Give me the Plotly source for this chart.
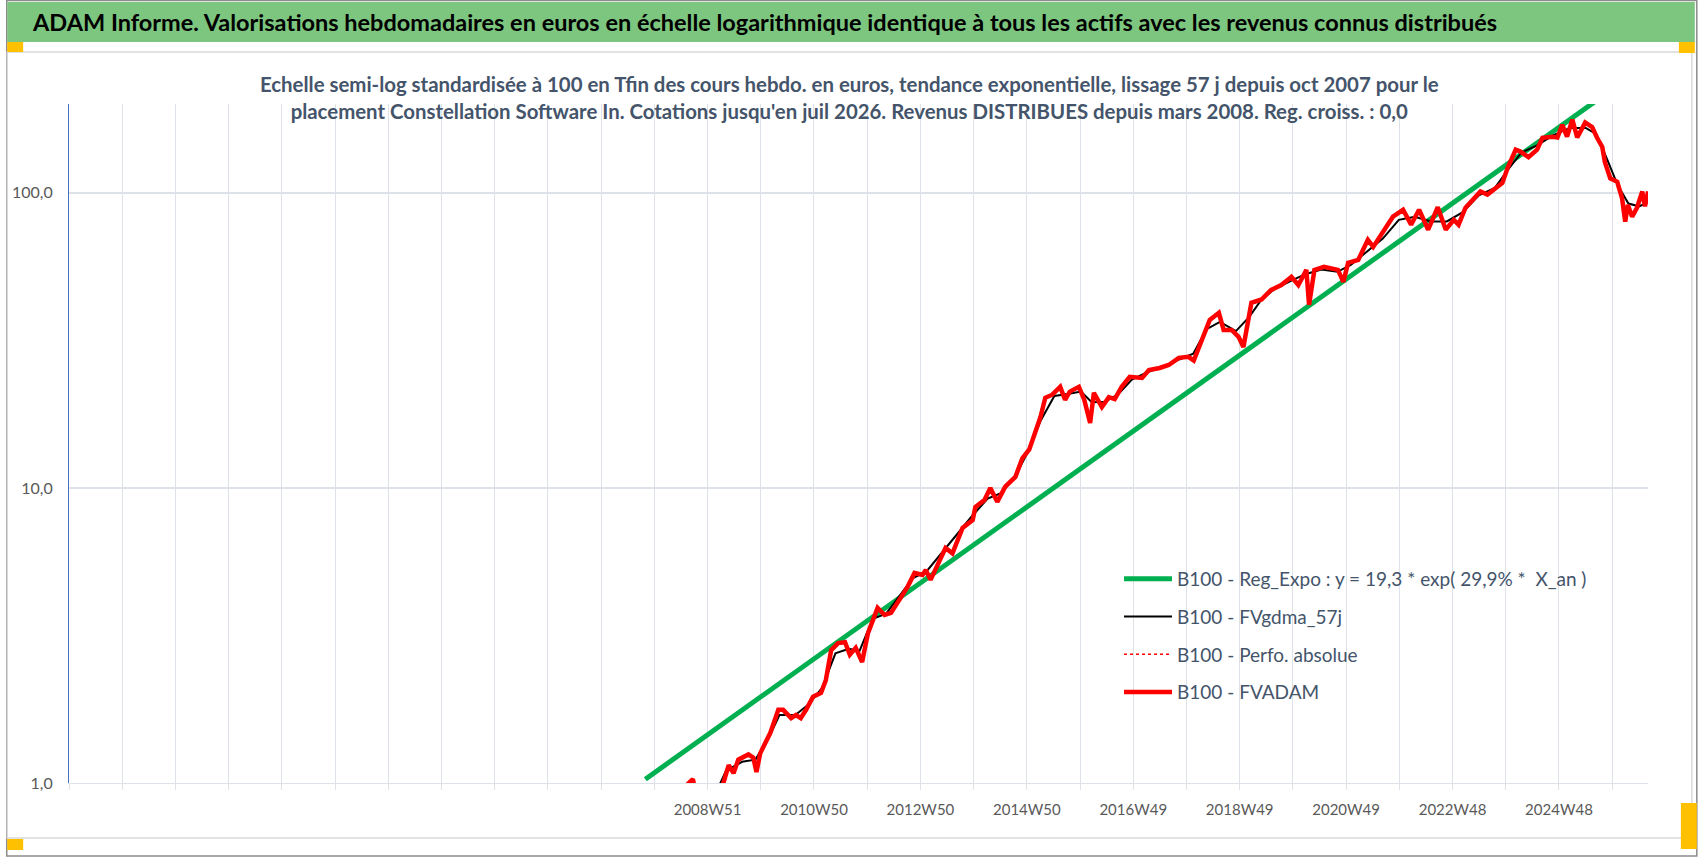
import plotly.graph_objects as go
import pandas as pd

# Titres
titre = ("ADAM Informe. Valorisations hebdomadaires en euros en échelle logarithmique "
         "identique à tous les actifs avec les revenus connus distribués")
sous_titre = ("Echelle semi-log standardisée à 100 en Tfin des cours hebdo. en euros, tendance exponentielle, "
              "lissage 57 j depuis oct 2007 pour le<br>placement Constellation Software In. Cotations jusqu'en "
              "juil 2026. Revenus DISTRIBUES depuis mars 2008. Reg. croiss. : 0,0")

# Etiquettes de l'axe des x (une sur deux lignes de grille)
etiquettes_x = ["2008W51", "2010W50", "2012W50", "2014W50", "2016W49",
                "2018W49", "2020W49", "2022W48", "2024W48"]

# Regression exponentielle (droite en semi-log)
reg_annees = [2007.79, 2026.57]
reg_valeurs = [1.03, 274.0]

# FVADAM (base 100)
fv_annees = [2007.80, 2008.00, 2008.25, 2008.45, 2008.60, 2008.68, 2008.75, 2008.95, 2009.10, 2009.22,
             2009.25, 2009.35, 2009.44, 2009.53, 2009.72, 2009.81, 2009.87, 2009.94, 2010.13, 2010.28,
             2010.37, 2010.52, 2010.61, 2010.70, 2010.80, 2010.93, 2011.08, 2011.17, 2011.27, 2011.40,
             2011.53, 2011.62, 2011.73, 2011.85, 2011.96, 2012.14, 2012.27, 2012.39, 2012.55, 2012.70,
             2012.83, 2012.98, 2013.04, 2013.13, 2013.41, 2013.54, 2013.73, 2013.92, 2013.97, 2014.14,
             2014.25, 2014.38, 2014.53, 2014.72, 2014.85, 2014.98, 2015.09, 2015.19, 2015.28, 2015.41,
             2015.56, 2015.65, 2015.74, 2015.91, 2016.01, 2016.12, 2016.19, 2016.34, 2016.47, 2016.58,
             2016.71, 2016.86, 2017.09, 2017.22, 2017.42, 2017.59, 2017.78, 2017.96, 2018.06, 2018.21,
             2018.36, 2018.53, 2018.62, 2018.77, 2018.90, 2018.99, 2019.14, 2019.33, 2019.51, 2019.70,
             2019.89, 2020.02, 2020.17, 2020.22, 2020.32, 2020.50, 2020.76, 2020.86, 2020.95, 2021.14,
             2021.32, 2021.42, 2021.62, 2021.79, 2021.98, 2022.13, 2022.28, 2022.45, 2022.63, 2022.78,
             2022.93, 2023.02, 2023.15, 2023.30, 2023.43, 2023.56, 2023.71, 2023.84, 2023.94, 2024.09,
             2024.18, 2024.33, 2024.49, 2024.59, 2024.78, 2024.87, 2024.96, 2025.05, 2025.15, 2025.24,
             2025.39, 2025.52, 2025.61, 2025.71, 2025.76, 2025.86, 2025.99, 2026.08, 2026.14, 2026.19,
             2026.27, 2026.36, 2026.46, 2026.51, 2026.57]
fv_valeurs = [0.92, 0.88, 0.86, 0.93, 1.00, 1.03, 0.88, 0.82, 0.86, 0.96,
              1.00, 1.15, 1.08, 1.20, 1.25, 1.22, 1.09, 1.26, 1.48, 1.77,
              1.77, 1.66, 1.70, 1.66, 1.77, 1.96, 2.02, 2.23, 2.82, 2.98,
              3.00, 2.72, 2.87, 2.57, 3.22, 3.92, 3.71, 3.77, 4.17, 4.62,
              5.15, 5.07, 5.27, 4.88, 6.26, 6.00, 7.32, 7.79, 8.62, 9.10,
              10.0, 8.97, 10.1, 10.9, 12.6, 13.5, 15.4, 17.4, 20.2, 20.7,
              22.0, 19.9, 21.2, 22.0, 19.9, 16.6, 21.0, 18.8, 20.3, 20.0,
              22.0, 23.8, 23.6, 25.1, 25.5, 26.1, 27.6, 27.8, 27.0, 31.5,
              37.1, 39.2, 34.3, 34.3, 32.5, 30.0, 42.4, 43.5, 46.9, 48.7,
              51.9, 48.7, 54.8, 41.7, 54.8, 56.1, 54.8, 49.9, 57.9, 59.3,
              69.3, 65.6, 75.0, 83.0, 87.6, 78.0, 87.6, 75.0, 89.4, 75.0,
              81.0, 78.0, 89.0, 94.7, 101.0, 98.6, 103.0, 108.0, 121.6, 140.0,
              138.0, 132.0, 140.0, 153.6, 155.0, 154.0, 170.0, 155.0, 177.0, 154.0,
              173.0, 167.0, 154.0, 143.0, 127.0, 112.0, 109.0, 96.0, 79.8, 91.0,
              83.0, 89.0, 101.0, 90.0, 101.0]

# FVgdma_57j (lissage)
gdma_annees = [2007.80, 2008.30, 2008.68, 2009.00, 2009.30, 2009.60, 2009.85, 2010.10, 2010.30, 2010.60,
               2010.85, 2011.10, 2011.35, 2011.60, 2011.80, 2012.05, 2012.30, 2012.55, 2012.80, 2013.05,
               2013.30, 2013.60, 2013.90, 2014.20, 2014.45, 2014.70, 2014.95, 2015.20, 2015.45, 2015.70,
               2015.95, 2016.15, 2016.40, 2016.65, 2016.90, 2017.20, 2017.50, 2017.80, 2018.05, 2018.30,
               2018.55, 2018.85, 2019.10, 2019.35, 2019.60, 2019.90, 2020.15, 2020.45, 2020.75, 2021.00,
               2021.30, 2021.60, 2021.90, 2022.20, 2022.50, 2022.80, 2023.10, 2023.40, 2023.70, 2023.95,
               2024.20, 2024.50, 2024.80, 2025.10, 2025.40, 2025.60, 2025.80, 2026.00, 2026.20, 2026.40,
               2026.57]
gdma_valeurs = [0.90, 0.88, 0.98, 0.84, 1.10, 1.18, 1.20, 1.42, 1.70, 1.70,
                1.85, 2.10, 2.75, 2.85, 2.80, 3.60, 3.75, 4.30, 4.95, 5.20,
                5.90, 6.90, 8.00, 9.20, 9.60, 10.8, 13.2, 17.0, 20.5, 20.8,
                21.2, 19.5, 19.6, 20.8, 23.3, 24.7, 25.8, 27.3, 28.5, 34.5,
                36.5, 34.0, 38.0, 44.0, 47.5, 50.5, 53.0, 55.0, 54.0, 57.0,
                63.0, 70.0, 81.0, 83.0, 80.0, 80.0, 86.0, 98.0, 104.0, 120.0,
                137.0, 145.0, 157.0, 166.0, 166.0, 158.0, 130.0, 106.0, 92.0, 90.0,
                93.0]


def annee_vers_date(a):
    an = int(a)
    debut = pd.Timestamp(an, 1, 1)
    fin = pd.Timestamp(an + 1, 1, 1)
    return debut + (fin - debut) * (a - an)


# zone de tracé en pixels (page 1698 x 857)
L, R, T, B = 63, 1648, 104, 783
W, H = 1698, 857


def px(x):
    return (x - L) / (R - L)


def py(y):
    return (B - y) / (B - T)


police = "Lato, Roboto, sans-serif"

fig = go.Figure()

fig.add_trace(go.Scatter(x=[annee_vers_date(a) for a in reg_annees], y=reg_valeurs, mode='lines',
                         name='B100 - Reg_Expo : y = 19,3 * exp( 29,9% *  X_an )', legendgroup='a',
                         line=dict(color='#00B050', width=5)))
fig.add_trace(go.Scatter(x=[annee_vers_date(a) for a in gdma_annees], y=gdma_valeurs, mode='lines',
                         name='B100 - FVgdma_57j', legendgroup='b',
                         line=dict(color='black', width=2)))
fig.add_trace(go.Scatter(x=[annee_vers_date(a) for a in fv_annees], y=fv_valeurs, mode='lines',
                         name='B100 - Perfo. absolue', legendgroup='c',
                         line=dict(color='#FF0000', width=1.5, dash='dot')))
fig.add_trace(go.Scatter(x=[annee_vers_date(a) for a in fv_annees], y=fv_valeurs, mode='lines',
                         name='B100 - FVADAM', legendgroup='d',
                         line=dict(color='#FF0000', width=4.5)))

# lignes de grille tous les 52 semaines, étiquette une fois sur deux
base = pd.Timestamp('2008-12-15')
tickvals = []
ticktext = []
for k in range(-12, 18):
    tickvals.append(base + pd.Timedelta(days=364 * k))
    if k >= 0 and k % 2 == 0:
        ticktext.append(etiquettes_x[k // 2])
    else:
        ticktext.append('')

fig.update_xaxes(type='date', range=[base - pd.Timedelta(days=364 * 12), pd.Timestamp('2026-07-27')],
                 tickvals=tickvals, ticktext=ticktext, showgrid=True, gridcolor='#DDE1E8', gridwidth=1,
                 ticks='outside', ticklen=6, tickcolor='#DDE1E8', showline=True, linecolor='#DDE1E8',
                 tickfont=dict(family=police, size=15, color='#595959'), ticklabelstandoff=7,
                 zeroline=False)
fig.update_yaxes(type='log', range=[0, 2.30103], tickvals=[1, 10, 100], ticktext=['1,0', '10,0', '100,0'],
                 showgrid=True, gridcolor='#DDE1E8', gridwidth=1.5, showline=True, linecolor='#4472C4',
                 linewidth=1, ticks='', tickfont=dict(family=police, size=16, color='#595959'),
                 ticklabelstandoff=12, zeroline=False)

formes = [
    # cadre extérieur
    dict(type='rect', x0=px(0.5), x1=px(1697), y0=py(856), y1=py(0.5), line=dict(color='#8C8C8C', width=1.5)),
    # bandeau vert du titre
    dict(type='rect', x0=px(1), x1=px(1695), y0=py(42), y1=py(2), fillcolor='#7DC67F', line=dict(width=0)),
    # bord de la zone du graphique
    dict(type='rect', x0=px(1), x1=px(1692), y0=py(838), y1=py(52), line=dict(color='#D9D9D9', width=1.5)),
    # poignées orange
    dict(type='rect', x0=px(1), x1=px(17), y0=py(52), y1=py(42), fillcolor='#FFC000', line=dict(width=0)),
    dict(type='rect', x0=px(1679), x1=px(1695), y0=py(53), y1=py(42), fillcolor='#FFC000', line=dict(width=0)),
    dict(type='rect', x0=px(1), x1=px(17), y0=py(850), y1=py(839), fillcolor='#FFC000', line=dict(width=0)),
    dict(type='rect', x0=px(1681), x1=px(1697), y0=py(849), y1=py(803), fillcolor='#FFC000', line=dict(width=0)),
]
for f in formes:
    f.update(xref='paper', yref='paper', layer='below')

fig.update_layout(
    width=W, height=H,
    margin=dict(l=L, r=W - R, t=T, b=H - B),
    paper_bgcolor='white', plot_bgcolor='white',
    shapes=formes,
    annotations=[
        dict(text='<b>' + titre + '</b>', x=px(24), y=py(22), xref='paper', yref='paper',
             xanchor='left', yanchor='middle', showarrow=False,
             font=dict(family=police, size=23.5, color='black')),
        dict(text='<b>' + sous_titre + '</b>', x=px(846), y=py(97), xref='paper', yref='paper',
             xanchor='center', yanchor='middle', showarrow=False, align='center',
             font=dict(family=police, size=20.4, color='#44546A')),
    ],
    showlegend=True,
    legend=dict(x=px(1117), y=py(560), xanchor='left', yanchor='top', bgcolor='rgba(0,0,0,0)',
                font=dict(family=police, size=19, color='#44546A'), tracegroupgap=10,
                traceorder='grouped', itemwidth=48),
)

fig.write_html("out.html", config={'displayModeBar': False},
               post_script="document.body.style.margin='0px';")
